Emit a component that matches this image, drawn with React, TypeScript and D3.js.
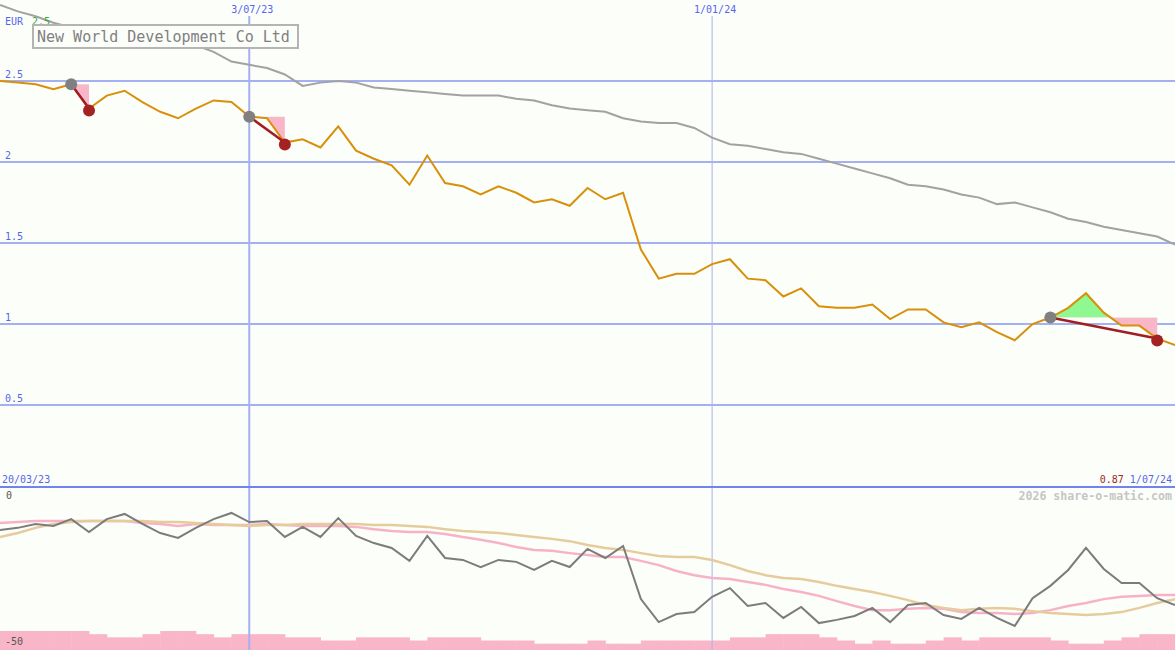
import * as React from 'react';
import * as d3 from 'd3';

const W = 1175;
const H = 650;

// weekly closes, EUR
const price = [
  2.50, 2.49, 2.48, 2.45, 2.48, 2.33, 2.41, 2.44, 2.37, 2.31,
  2.27, 2.33, 2.38, 2.37, 2.28, 2.27, 2.12, 2.14, 2.09, 2.22,
  2.07, 2.02, 1.98, 1.86, 2.04, 1.87, 1.85, 1.80, 1.85, 1.81,
  1.75, 1.77, 1.73, 1.84, 1.77, 1.81, 1.46, 1.28, 1.31, 1.31,
  1.37, 1.40, 1.28, 1.27, 1.17, 1.22, 1.11, 1.10, 1.10, 1.12,
  1.03, 1.09, 1.09, 1.01, 0.98, 1.01, 0.95, 0.90, 1.00, 1.04,
  1.10, 1.19, 1.07, 0.99, 0.99, 0.91, 0.87,
];

// long moving average (grey)
const avg = [
  2.97, 2.93, 2.90, 2.86, 2.83, 2.80, 2.75, 2.72, 2.72, 2.73,
  2.73, 2.72, 2.68, 2.62, 2.60, 2.58, 2.54, 2.47, 2.49, 2.50,
  2.49, 2.46, 2.45, 2.44, 2.43, 2.42, 2.41, 2.41, 2.41, 2.39,
  2.38, 2.35, 2.33, 2.32, 2.31, 2.27, 2.25, 2.24, 2.24, 2.21,
  2.15, 2.11, 2.10, 2.08, 2.06, 2.05, 2.02, 1.99, 1.96, 1.93,
  1.90, 1.86, 1.85, 1.83, 1.80, 1.78, 1.74, 1.75, 1.72, 1.69,
  1.65, 1.63, 1.60, 1.58, 1.56, 1.54, 1.49,
];

// lower panel: oscillator and its two averages
const osc = [
  -13.0, -12.3, -11.1, -11.7, -9.6, -13.6, -9.6, -8.0, -11.1, -13.9,
  -15.4, -12.3, -9.6, -7.7, -10.5, -10.2, -15.1, -12.0, -15.1, -9.3,
  -14.8, -17.0, -18.5, -22.5, -14.8, -21.6, -22.2, -24.4, -22.2, -22.8,
  -25.3, -22.5, -24.4, -18.8, -21.6, -17.9, -34.3, -41.4, -38.9, -38.3,
  -33.6, -30.9, -36.4, -35.5, -40.1, -36.7, -41.7, -40.7, -39.5, -37.0,
  -41.4, -36.1, -35.5, -39.2, -40.4, -37.0, -40.1, -42.6, -34.0, -30.2,
  -25.3, -18.5, -25.0, -29.3, -29.3, -34.0, -36.1,
];
const oscFast = [
  -10.8, -10.5, -10.2, -10.2, -10.2, -10.2, -10.2, -10.2, -10.8, -11.1,
  -11.7, -11.1, -11.4, -11.4, -11.4, -11.1, -11.4, -11.7, -11.7, -11.7,
  -12.0, -12.7, -13.3, -13.6, -13.6, -14.2, -15.1, -16.0, -17.0, -18.2,
  -19.1, -19.4, -20.1, -20.7, -21.3, -21.3, -22.5, -23.8, -25.6, -26.9,
  -27.8, -28.1, -29.0, -29.9, -31.2, -32.1, -33.3, -34.9, -36.4, -37.7,
  -37.7, -37.3, -37.0, -37.3, -38.3, -38.6, -38.6, -38.9, -38.6, -37.7,
  -36.4, -35.5, -34.3, -33.6, -33.3, -33.0, -33.0,
];
const oscSlow = [
  -15.1, -13.9, -12.3, -11.1, -10.5, -10.2, -10.2, -10.2, -10.2, -10.5,
  -10.5, -10.8, -11.1, -11.4, -11.7, -11.4, -11.4, -11.1, -11.1, -11.1,
  -11.1, -11.4, -11.4, -11.7, -12.0, -12.7, -13.3, -13.6, -13.9, -14.5,
  -15.1, -15.7, -16.4, -17.6, -18.5, -19.1, -20.1, -21.0, -21.3, -21.3,
  -22.2, -23.8, -25.6, -26.9, -27.8, -28.1, -29.0, -30.2, -31.2, -32.1,
  -33.3, -34.6, -36.1, -37.0, -37.7, -37.3, -37.0, -37.3, -38.0, -38.6,
  -38.9, -39.2, -38.9, -38.3, -37.0, -35.5, -34.3,
];
// weekly volume level (pink blocks)
const volume = [
  6, 6, 6, 6, 6, 5, 4, 4, 5, 6,
  6, 5, 4, 5, 5, 5, 4, 4, 3, 3,
  4, 4, 4, 3, 4, 4, 4, 3, 3, 3,
  2, 2, 2, 3, 2, 2, 3, 3, 3, 3,
  3, 4, 4, 5, 5, 5, 4, 3, 2, 3,
  2, 2, 3, 4, 3, 4, 4, 4, 4, 3,
  2, 2, 3, 4, 5, 5,
];

// trades: week index of entry and exit
const entries = [4, 14, 59];
const exits = [5, 16, 65];

const yTicks = [0.5, 1, 1.5, 2, 2.5];
const markers = ['2023-07-03', '2024-01-01'];
const markerLabels = ['3/07/23', '1/01/24'];

const start = new Date(Date.UTC(2023, 2, 27));
const end = new Date(Date.UTC(2024, 6, 1));
const dates = price.map((_, i) => d3.utcDay.offset(start, 7 * i));

const x = d3.scaleUtc().domain([start, end]).range([0, W]);
const y = d3.scaleLinear().domain([0, 2.5]).range([486, 81]);
const yLow = d3.scaleLinear().domain([-50, 0]).range([650, 488]);
const yVol = d3.scaleLinear().domain([0, 6]).range([650, 631]);

const blue = '#a4b0f2';
const mono = '"DejaVu Sans Mono", monospace';

const lineOf = (vals: number[], ys: d3.ScaleLinear<number, number>) =>
  d3.line<number>().x((_, i) => x(dates[i])).y(d => ys(d))(vals) || '';

export default function App() {
  const markerX = markers.map(m => x(new Date(m + 'T00:00:00Z')));

  const trades = entries.map((e, k) => {
    const idx = d3.range(e, exits[k] + 1);
    const level = price[e];
    const area = d3.area<number>()
      .x(i => x(dates[i]))
      .y0(y(level))
      .y1(i => y(price[i]))(idx) || '';
    return {e, x2: exits[k], level, area, k};
  });

  return (
    <svg width={W} height={H} style={{position: 'fixed', left: 0, top: 0, background: '#fcfefa'}}>
      <rect width={W} height={H} fill="#fcfefa" />
      <defs>
        {trades.map(t => (
          <React.Fragment key={t.k}>
            <clipPath id={`up${t.k}`}>
              <rect x={0} y={0} width={W} height={y(t.level)} />
            </clipPath>
            <clipPath id={`dn${t.k}`}>
              <rect x={0} y={y(t.level)} width={W} height={486 - y(t.level)} />
            </clipPath>
          </React.Fragment>
        ))}
      </defs>

      {/* volume blocks */}
      {volume.map((v, i) => (
        <rect key={i} x={x(dates[i])} y={yVol(v)}
              width={x(dates[i + 1] || end) - x(dates[i]) + 0.5}
              height={650 - yVol(v)} fill="#fab6c9" />
      ))}

      {/* grid */}
      {yTicks.map(t => (
        <g key={t}>
          <line x1={0} x2={W} y1={y(t)} y2={y(t)} stroke={blue} strokeWidth={2} />
          <text x={5} y={y(t) - 3} fontFamily={mono} fontSize={10} fill="#5566ee">{t}</text>
        </g>
      ))}
      <line x1={markerX[0]} x2={markerX[0]} y1={16} y2={H} stroke={blue} strokeWidth={2} />
      <line x1={markerX[1]} x2={markerX[1]} y1={16} y2={H} stroke="#a8b2e6" strokeWidth={1} />
      {markerLabels.map((l, i) => (
        <text key={l} x={markerX[i] + 3} y={13} textAnchor="middle" fontFamily={mono}
              fontSize={10} fill="#5566ee">{l}</text>
      ))}
      <line x1={0} x2={W} y1={487} y2={487} stroke="#7282ee" strokeWidth={2} />

      {/* long average */}
      <path d={lineOf(avg, y)} fill="none" stroke="#a2a2a2" strokeWidth={2} />

      {/* title */}
      <text x={5} y={25} fontFamily={mono} fontSize={10} fill="#5566ee">EUR</text>
      <text x={32} y={25} fontFamily={mono} fontSize={10} fill="#33aa33">2.5</text>
      <rect x={33} y={25} width={265} height={23} fill="#fcfefa" stroke="#b4b4b4" strokeWidth={2} />
      <text x={37} y={42} fontFamily={mono} fontSize={15} fill="#808080">New World Development Co Ltd</text>

      {/* trade areas */}
      {trades.map(t => (
        <g key={t.k}>
          <path d={t.area} fill="#90f890" clipPath={`url(#up${t.k})`} />
          <path d={t.area} fill="#fab6c9" clipPath={`url(#dn${t.k})`} />
        </g>
      ))}

      {/* price */}
      <path d={lineOf(price, y)} fill="none" stroke="#d8900a" strokeWidth={2} />

      {trades.map(t => (
        <g key={t.k}>
          <line x1={x(dates[t.e])} y1={y(price[t.e])} x2={x(dates[t.x2])} y2={y(price[t.x2])}
                stroke="#a01e22" strokeWidth={2.5} />
          <circle cx={x(dates[t.e])} cy={y(price[t.e])} r={6} fill="#808080" />
          <circle cx={x(dates[t.x2])} cy={y(price[t.x2]) + 2} r={6} fill="#a52222" />
        </g>
      ))}

      {/* lower panel */}
      <path d={lineOf(oscFast, yLow)} fill="none" stroke="#f8b2c8" strokeWidth={2.5} />
      <path d={lineOf(oscSlow, yLow)} fill="none" stroke="#e6cc9c" strokeWidth={2.5} />
      <path d={lineOf(osc, yLow)} fill="none" stroke="#7c7c7c" strokeWidth={2} />

      <text x={2} y={483} fontFamily={mono} fontSize={10} fill="#5566ee">20/03/23</text>
      <text x={1172} y={483} textAnchor="end" fontFamily={mono} fontSize={10}>
        <tspan fill="#a02828">{price[price.length - 1].toFixed(2)}</tspan>
        <tspan fill="#5566ee" dx={6}>1/07/24</tspan>
      </text>
      <text x={1172} y={500} textAnchor="end" fontFamily={mono} fontSize={11.6}
            fontWeight="bold" fill="#c6c6c6">2026 share-o-matic.com</text>
      <text x={6} y={499} fontFamily={mono} fontSize={10} fill="#555">0</text>
      <text x={5} y={645} fontFamily={mono} fontSize={10} fill="#555">-50</text>
    </svg>
  );
}
